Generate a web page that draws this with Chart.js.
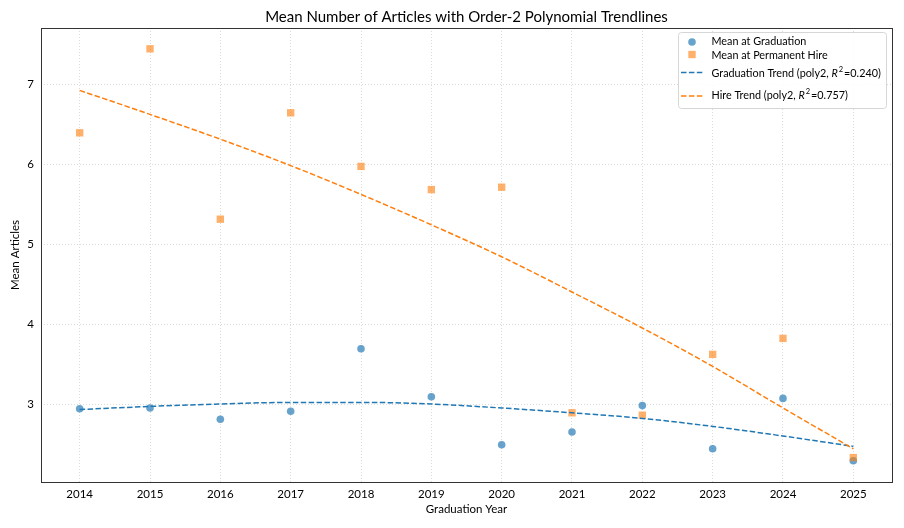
<!DOCTYPE html>
<html><head><meta charset="utf-8">
<script src="https://cdn.jsdelivr.net/npm/chart.js@4/dist/chart.umd.min.js"></script>
<style>html,body{margin:0;padding:0;background:#fff}canvas{display:block}</style>
</head><body>
<canvas id="c" width="904" height="528"></canvas>
<script>
// ---- data ----
const years = [2014, 2015, 2016, 2017, 2018, 2019, 2020, 2021, 2022, 2023, 2024, 2025];
const gradMeans = [2.94, 2.95, 2.81, 2.91, 3.69, 3.09, 2.49, 2.65, 2.98, 2.44, 3.07, 2.29];
const hireMeans = [6.39, 7.44, 5.31, 6.64, 5.97, 5.68, 5.71, 2.89, 2.86, 3.62, 3.82, 2.33];
const gradTrend = [2.93, 2.97, 3.00, 3.02, 3.02, 3.00, 2.95, 2.89, 2.82, 2.72, 2.60, 2.47];
const hireTrend = [6.92, 6.62, 6.31, 5.98, 5.62, 5.24, 4.84, 4.40, 3.95, 3.47, 2.95, 2.44];
const yTicks = [3, 4, 5, 6, 7];
const seriesLabels = ['Mean at Graduation', 'Mean at Permanent Hire',
  'Graduation Trend (poly2, R²=0.240)', 'Hire Trend (poly2, R²=0.757)'];
const titleText = 'Mean Number of Articles with Order-2 Polynomial Trendlines';
const xTitle = 'Graduation Year';
const yTitle = 'Mean Articles';

const F = 'Lato, "Open Sans", sans-serif';
const BLUE = '#1f77b4', ORANGE = '#ff7f0e';
const BLUE_A = 'rgba(31,119,180,0.68)', ORANGE_A = 'rgba(255,127,14,0.62)';
const pts = (xs, ys) => xs.map((x, i) => ({x: x, y: ys[i]}));

// legend drawn in the upper-right corner of the plot area, from the datasets
const boxLegend = {
  id: 'boxLegend',
  afterDraw(chart) {
    const ctx = chart.ctx, ca = chart.chartArea;
    const w = 208, h = 76;
    const x0 = ca.right - 6 - w + 0.5, y0 = ca.top + 4.5;
    ctx.save();
    ctx.beginPath();
    if (ctx.roundRect) ctx.roundRect(x0, y0, w, h, 3); else ctx.rect(x0, y0, w, h);
    ctx.fillStyle = 'rgba(255,255,255,0.85)';
    ctx.fill();
    ctx.strokeStyle = '#d6d6d6';
    ctx.lineWidth = 1;
    ctx.stroke();
    const markY = [9.5, 22, 40, 63.5];
    const textY = [9.5, 23, 41, 63.5];
    const mx = x0 + 13.5, tx = x0 + 33;
    chart.data.datasets.forEach((ds, i) => {
      const my = y0 + markY[i];
      if (ds.showLine) {
        ctx.beginPath();
        ctx.setLineDash(ds.borderDash);
        ctx.strokeStyle = ds.borderColor;
        ctx.lineWidth = ds.borderWidth;
        ctx.moveTo(x0 + 2.5, my);
        ctx.lineTo(x0 + 25, my);
        ctx.stroke();
        ctx.setLineDash([]);
      } else {
        ctx.fillStyle = ds.backgroundColor;
        Chart.helpers.drawPoint(ctx, {pointStyle: ds.pointStyle, radius: ds.pointRadius, borderWidth: 0, rotation: 0}, mx, my);
      }
      // text (with italic R and superscript 2)
      const ty = y0 + textY[i];
      ctx.fillStyle = '#000';
      ctx.textBaseline = 'middle';
      ctx.textAlign = 'left';
      const base = '10.8px ' + F;
      const parts = ds.label.split('R²');
      let x = tx;
      ctx.font = base;
      ctx.fillText(parts[0], x, ty);
      x += ctx.measureText(parts[0]).width;
      if (parts.length > 1) {
        ctx.font = 'italic ' + base;
        ctx.fillText('R', x, ty);
        x += ctx.measureText('R').width + 1;
        ctx.font = '7.5px ' + F;
        ctx.fillText('2', x, ty - 4);
        x += ctx.measureText('2').width + 1;
        ctx.font = base;
        ctx.fillText(parts[1], x, ty);
      }
    });
    ctx.restore();
  }
};

// full box frame around the plot area + center the title over the plot area
const frame = {
  id: 'frame',
  beforeDraw(chart) {
    const ca = chart.chartArea;
    if (chart.titleBlock) { chart.titleBlock.left = ca.left; chart.titleBlock.right = ca.right; }
  },
  afterDatasetsDraw(chart) {
    const ctx = chart.ctx, ca = chart.chartArea;
    ctx.save();
    ctx.strokeStyle = '#333';
    ctx.lineWidth = 1;
    ctx.strokeRect(Math.round(ca.left) + 0.5, Math.round(ca.top) + 0.5,
      Math.round(ca.right - ca.left), Math.round(ca.bottom - ca.top));
    ctx.restore();
  }
};

new Chart(document.getElementById('c'), {
  type: 'scatter',
  data: {
    datasets: [
      {label: seriesLabels[0], data: pts(years, gradMeans), pointStyle: 'circle', pointRadius: 3.8,
       backgroundColor: BLUE_A, borderWidth: 0, pointBorderWidth: 0, showLine: false, order: 4},
      {label: seriesLabels[1], data: pts(years, hireMeans), pointStyle: 'rect', pointRadius: 5.2,
       backgroundColor: ORANGE_A, borderWidth: 0, pointBorderWidth: 0, showLine: false, order: 3},
      {label: seriesLabels[2], data: pts(years, gradTrend), showLine: true, pointRadius: 0,
       borderColor: BLUE, backgroundColor: BLUE, borderWidth: 1.5, borderDash: [5.5, 2.4],
       cubicInterpolationMode: 'monotone', order: 2},
      {label: seriesLabels[3], data: pts(years, hireTrend), showLine: true, pointRadius: 0,
       borderColor: ORANGE, backgroundColor: ORANGE, borderWidth: 1.5, borderDash: [5.5, 2.4],
       cubicInterpolationMode: 'monotone', order: 1}
    ]
  },
  options: {
    responsive: false,
    animation: false,
    devicePixelRatio: 1,
    layout: {padding: {left: 0, right: 12, top: 0, bottom: 0}},
    plugins: {
      legend: {display: false},
      tooltip: {enabled: false},
      title: {display: true, text: titleText, color: '#000',
        font: {family: F, size: 15, weight: 'normal'}, padding: {top: 8, bottom: 2}}
    },
    scales: {
      x: {
        type: 'linear', min: 2013.45, max: 2025.55,
        afterBuildTicks: s => { s.ticks = years.map(v => ({value: v})); },
        afterFit: s => { s.height = 46; },
        ticks: {color: '#000', font: {family: F, size: 11.5}, padding: 5, maxRotation: 0, autoSkip: false,
          callback: v => String(v)},
        grid: {color: '#d2d2d2', lineWidth: 0.8, drawTicks: false},
        border: {display: false, dash: [1, 2]},
        title: {display: true, text: xTitle, color: '#000', font: {family: F, size: 11.5},
          padding: {top: 0, bottom: 12}}
      },
      y: {
        type: 'linear', min: 2.025, max: 7.7,
        afterBuildTicks: s => { s.ticks = yTicks.map(v => ({value: v})); },
        afterFit: s => { s.width = 41; },
        ticks: {color: '#000', font: {family: F, size: 11.5}, padding: 7, callback: v => String(v)},
        grid: {color: '#d2d2d2', lineWidth: 0.8, drawTicks: false},
        border: {display: false, dash: [1, 2]},
        title: {display: true, text: yTitle, color: '#000', font: {family: F, size: 11.5},
          padding: {top: 8, bottom: 0}}
      }
    }
  },
  plugins: [frame, boxLegend]
});
</script>
</body></html>
